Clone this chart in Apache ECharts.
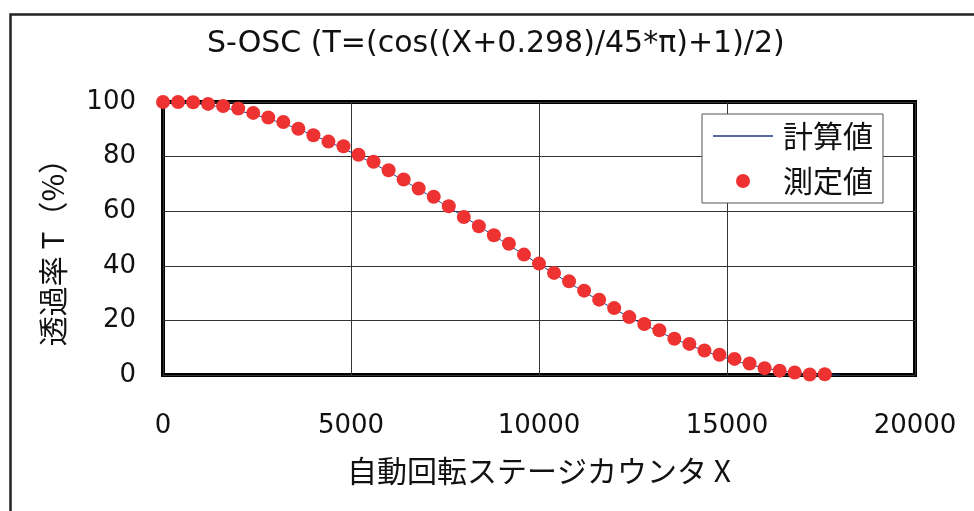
<!DOCTYPE html>
<html><head><meta charset="utf-8">
<script src="https://cdn.jsdelivr.net/npm/echarts@6/dist/echarts.min.js"></script>
<style>html,body{margin:0;padding:0;background:#fff}#c{width:974px;height:511px}</style>
</head><body><div id="c"></div>
<script>
// Calculated curve (計算値)
const calcX = [0,1000,2000,3000,4000,5000,6000,7000,8000,9000,10000,11000,12000,13000,14000,15000,16000,17000,18000];
const calcT = [100,99.2,96.8,93.0,87.8,81.6,74.4,66.4,58.0,49.3,40.6,32.1,24.2,17.1,11.0,6.1,2.6,0.6,0.0];
// Measured points (測定値)
const measX = [0,400,800,1200,1600,2000,2400,2800,3200,3600,4000,4400,4800,5200,5600,6000,6400,6800,7200,7600,8000,8400,8800,9200,9600,10000,10400,10800,11200,11600,12000,12400,12800,13200,13600,14000,14400,14800,15200,15600,16000,16400,16800,17200,17600];
const measT = [100,100,99.9,99.3,98.5,97.6,96.0,94.3,92.7,90.2,87.8,85.5,83.8,80.7,78.1,75.0,71.6,68.3,65.3,61.8,57.9,54.5,51.2,48.1,44.1,40.8,37.4,34.3,30.9,27.6,24.5,21.2,18.7,16.4,13.3,11.4,9.0,7.4,5.9,4.2,2.5,1.6,0.9,0.2,0.3];
const xTicks = [0,5000,10000,15000,20000];
const yTicks = [0,20,40,60,80,100];
const titleText = 'S-OSC (T=(cos((X+0.298)/45*π)+1)/2)';
const xName = '自動回転ステージカウンタ X';
const yName = '透過率 T（%）';
const seriesNames = ['計算値','測定値'];

const FONT = '"Noto Sans CJK JP", "Noto Sans", sans-serif';
const NUMFONT = '"DejaVu Sans", "Noto Sans CJK JP", sans-serif';
const chart = echarts.init(document.getElementById('c'), null, {renderer:'canvas'});
chart.setOption({
  animation:false,
  backgroundColor:'#fff',
  title:{text:titleText,left:207,top:29,padding:0,textStyle:{fontFamily:NUMFONT,fontSize:30,fontWeight:'normal',color:'#111'}},
  grid:{left:163,right:59,top:102,bottom:136,show:true,borderColor:'#000',borderWidth:4,backgroundColor:'transparent'},
  xAxis:{type:'value',min:xTicks[0],max:xTicks[xTicks.length-1],interval:5000,
    axisLine:{show:false},axisTick:{show:false},
    splitLine:{show:true,lineStyle:{color:'#333',width:1}},
    axisLabel:{margin:38,fontFamily:NUMFONT,fontSize:26,color:'#111',formatter:v=>String(v)},
    name:xName,nameLocation:'middle',nameGap:81,nameTextStyle:{fontFamily:FONT,fontSize:30,color:'#111'}},
  yAxis:{type:'value',min:yTicks[0],max:yTicks[yTicks.length-1],interval:20,
    axisLine:{show:false},axisTick:{show:false},
    splitLine:{show:true,lineStyle:{color:'#333',width:1}},
    axisLabel:{margin:27,fontFamily:NUMFONT,fontSize:26,color:'#111',formatter:v=>String(v)}},
  legend:{orient:'vertical',left:702,top:114,padding:[4,10,4,11],itemGap:9,itemWidth:60,itemHeight:14,
    backgroundColor:'#fff',borderColor:'#555',borderWidth:1,
    textStyle:{fontFamily:FONT,fontSize:30,color:'#111',lineHeight:36,padding:[0,0,0,5]},
    data:[{name:seriesNames[0],icon:'path://M0,0L60,0L60,1.4L0,1.4Z',itemStyle:{color:'#1f3a8a'}},{name:seriesNames[1],icon:'circle'}]},
  graphic:[
    {type:'rect',left:8,top:12,shape:{x:0,y:0,width:1000,height:600},style:{fill:'none',stroke:'#222',lineWidth:2.5},silent:true,z:-1},
    {type:'text',x:53,y:245,rotation:Math.PI/2,style:{text:yName,font:'30px '+FONT,fill:'#111',align:'center',verticalAlign:'middle'}}
  ],
  series:[
    {name:seriesNames[0],type:'line',data:calcX.map((x,i)=>[x,calcT[i]]),smooth:0.4,symbol:'none',
     lineStyle:{color:'#1f3a8a',width:1},itemStyle:{color:'#1f3a8a'},z:2},
    {name:seriesNames[1],type:'scatter',data:measX.map((x,i)=>[x,measT[i]]),symbol:'circle',symbolSize:14,
     itemStyle:{color:'#ee3232',opacity:1},clip:false,z:3}
  ]
});
</script></body></html>
